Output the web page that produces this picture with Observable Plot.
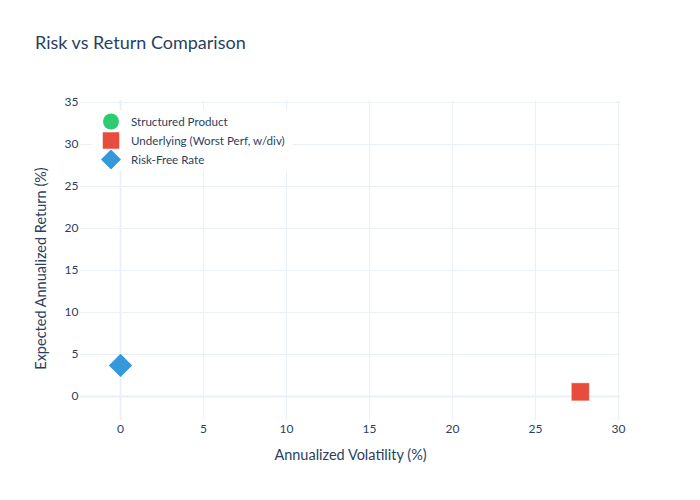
<!DOCTYPE html>
<html>
<head>
<meta charset="utf-8">
<script src="https://cdn.jsdelivr.net/npm/d3@7"></script>
<script src="https://cdn.jsdelivr.net/npm/@observablehq/plot@0.6"></script>
<style>
  html, body { margin: 0; padding: 0; background: #fff; }
  #wrap { position: relative; width: 700px; height: 500px; font-family: Lato, "Noto Sans", sans-serif; color: #2a3f5f; }
  #title { position: absolute; left: 35px; top: 31px; font-size: 18px; white-space: nowrap; }
  #legend { position: absolute; left: 92px; top: 110px; background: #fff; padding: 2px 8px 2px 8px; font-size: 11.6px; }
  #legend .row { display: flex; align-items: center; height: 19px; }
  #legend svg { width: 22px; height: 19px; margin-right: 9px; }
</style>
</head>
<body>
<div id="wrap">
  <div id="chart"></div>
  <div id="title">Risk vs Return Comparison</div>
  <div id="legend"></div>
</div>
<script>
// Legend entries (all series)
const seriesNames = ["Structured Product", "Underlying (Worst Perf, w/div)", "Risk-Free Rate"];
const seriesColors = ["#2ecc71", "#e74c3c", "#3498db"];
const seriesSymbols = ["circle", "square", "diamond2"];

// Plotted points: annualized volatility (%) vs expected annualized return (%)
const pointNames = ["Underlying (Worst Perf, w/div)", "Risk-Free Rate"];
const volatility = [27.7, 0];
const expectedReturn = [0.55, 3.7];

// Axis ticks
const xTicks = [0, 5, 10, 15, 20, 25, 30];
const yTicks = [0, 5, 10, 15, 20, 25, 30, 35];

const points = pointNames.map((name, i) => ({
  name,
  x: volatility[i],
  y: expectedReturn[i],
  color: seriesColors[seriesNames.indexOf(name)],
  symbol: seriesSymbols[seriesNames.indexOf(name)]
}));

const grid = "#ebf0f8";

const dotMarks = points.map(p => Plot.dot([p], {
  x: "x", y: "y",
  fill: p.color,
  symbol: p.symbol,
  r: p.symbol === "square" ? 10.2 : 10.5,
  stroke: p.symbol === "square" ? "rgba(255,255,255,0.5)" : "none",
  strokeWidth: 1
}));

const chart = Plot.plot({
  width: 700,
  height: 500,
  marginTop: 100,
  marginBottom: 80,
  marginLeft: 80,
  marginRight: 80,
  style: { fontFamily: "Lato, 'Noto Sans', sans-serif", fontSize: "12px", color: "#2a3f5f", background: "transparent" },
  x: { domain: [-2.41, 30.12], label: null },
  y: { domain: [-2.86, 35.24], label: null },
  marks: [
    Plot.gridX(xTicks, { stroke: grid, strokeOpacity: 1, strokeWidth: 1 }),
    Plot.gridY(yTicks, { stroke: grid, strokeOpacity: 1, strokeWidth: 1 }),
    Plot.ruleX([0], { stroke: grid, strokeWidth: 2 }),
    Plot.ruleY([0], { stroke: grid, strokeWidth: 2 }),
    Plot.axisX(xTicks, { tickSize: 0, tickPadding: 4, label: null, fill: "#2a3f5f" }),
    Plot.axisY(yTicks, { tickSize: 0, tickPadding: 2, label: null, fill: "#2a3f5f" }),
    ...dotMarks,
    Plot.text(["Annualized Volatility (%)"], { frameAnchor: "bottom", dy: 35, fontSize: 14.5, fill: "#2a3f5f", lineAnchor: "middle" }),
    Plot.text(["Expected Annualized Return (%)"], { frameAnchor: "left", dx: -39, dy: 8, rotate: -90, textAnchor: "middle", fontSize: 14.5, fill: "#2a3f5f", lineAnchor: "middle" })
  ]
});
document.getElementById("chart").appendChild(chart);

// Legend
const legend = d3.select("#legend");
seriesNames.forEach((name, i) => {
  const row = legend.append("div").attr("class", "row");
  const svg = row.append("svg");
  const sym = { circle: d3.symbolCircle, square: d3.symbolSquare, diamond2: d3.symbolDiamond2 }[seriesSymbols[i]];
  const size = { circle: 201, square: 272, diamond2: 255 }[seriesSymbols[i]];
  svg.append("path")
    .attr("transform", "translate(11,9.5)")
    .attr("d", d3.symbol(sym, size)())
    .attr("fill", seriesColors[i]);
  row.append("span").text(name);
});
</script>
</body>
</html>
